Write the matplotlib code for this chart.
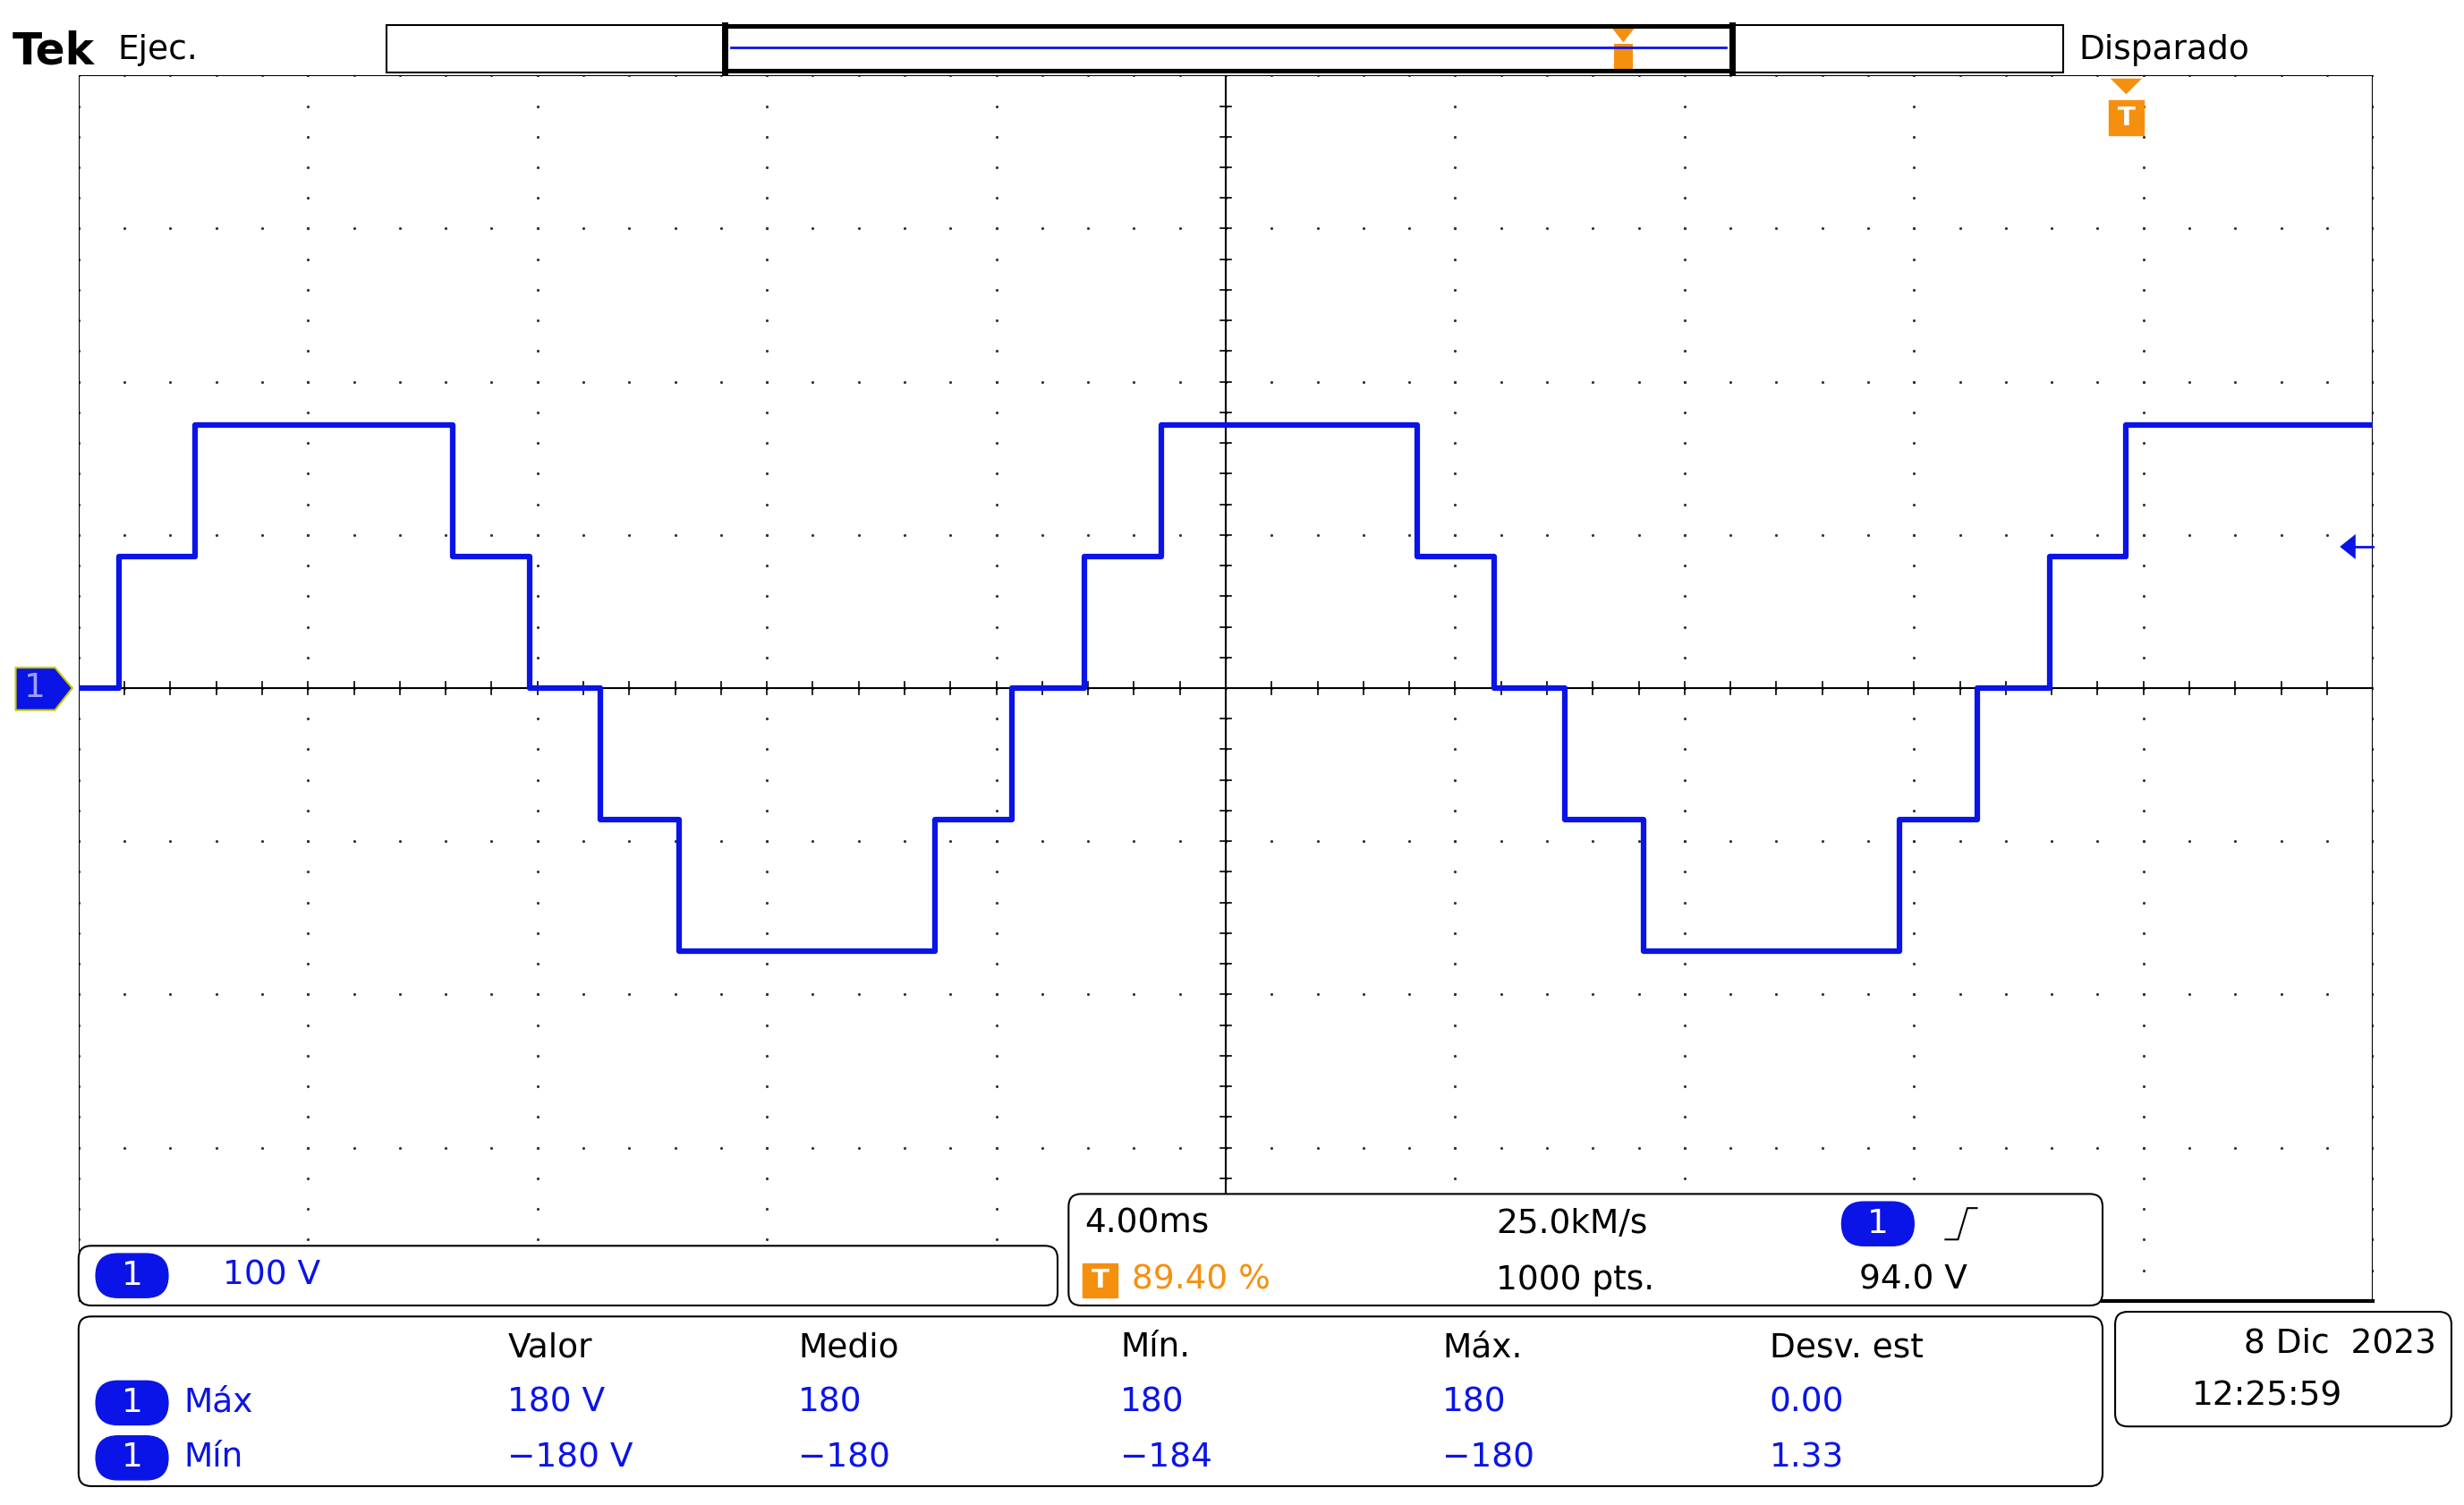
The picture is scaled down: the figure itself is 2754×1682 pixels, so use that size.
import numpy as np
import matplotlib.pyplot as plt
from matplotlib.patches import FancyBboxPatch, Rectangle, Polygon

# step waveform: transition times (ms) and levels (V) after each transition
edge_times = [-19.29, -17.97, -13.48, -12.14, -10.90, -9.53, -5.07, -3.73,
              -2.47, -1.12, 3.34, 4.68, 5.92, 7.29, 11.75, 13.10, 14.36, 15.70]
levels = [0, 86, 172, 86, 0, -86, -172, -86, 0, 86, 172, 86, 0, -86, -172, -86, 0, 86, 172]

meas_headers = ['Valor', 'Medio', 'Mín.', 'Máx.', 'Desv. est']
meas_rows = [('Máx', ['180 V', '180', '180', '180', '0.00']),
             ('Mín', ['\u2212180 V', '\u2212180', '\u2212184', '\u2212180', '1.33'])]

BLUE = '#0a14e6'
ORANGE = '#f5900f'
W, H = 1568, 958
FS = 27
plt.rcParams['font.family'] = ['DejaVu Sans']

fig = plt.figure(figsize=(27.54, 16.82), dpi=100)
ax = fig.add_axes([50 / W, (H - 828) / H, 1460 / W, 780 / H])
ax.set_xlim(-20, 20)
ax.set_ylim(-400, 400)
ax.axis('off')

# graticule dots
for gx in np.arange(-20, 21, 4):
    ys = np.arange(-400, 401, 20)
    ax.plot(np.full_like(ys, gx, dtype=float), ys, ls='', marker='.', ms=2.5, color='#333333')
for gy in np.arange(-400, 401, 100):
    xs = np.arange(-20, 20.01, 0.8)
    ax.plot(xs, np.full_like(xs, gy, dtype=float), ls='', marker='.', ms=2.5, color='#333333')
# center crosshair with ticks
ax.axhline(0, color='black', lw=1.5)
ax.axvline(0, color='black', lw=1.5)
for tx in np.arange(-20, 20.01, 0.8):
    ax.plot([tx, tx], [-4, 4], color='black', lw=1.2)
for ty in np.arange(-400, 401, 20):
    ax.plot([-0.1, 0.1], [ty, ty], color='black', lw=1.2)
ax.plot([-20, -20, 20, 20], [-400, 400, 400, -400], color='black', lw=1.5)

t = [-20] + edge_times + [20]
ax.step(t, levels + [levels[-1]], where='post', color=BLUE, lw=4.5)

# overlay in screen pixel coordinates
ov = fig.add_axes([0, 0, 1, 1])
ov.set_xlim(0, W)
ov.set_ylim(H, 0)
ov.axis('off')
ov.patch.set_alpha(0)


def rbox(x0, y0, x1, y1, lw=1.5):
    ov.add_patch(FancyBboxPatch((x0, y0), x1 - x0, y1 - y0, boxstyle='round,pad=0,rounding_size=8',
                                fc='white', ec='black', lw=lw))


def pill(x, y, txt='1'):
    ov.add_patch(FancyBboxPatch((x - 23, y - 14), 46, 28, boxstyle='round,pad=0,rounding_size=14',
                                fc=BLUE, ec=BLUE))
    ov.text(x, y, txt, color='white', fontsize=FS, ha='center', va='center')


def tmark(x, y, s=11):
    ov.add_patch(Rectangle((x - s, y - s), 2 * s, 2 * s, fc=ORANGE, ec=ORANGE))
    ov.text(x, y, 'T', color='white', fontsize=FS - 6, ha='center', va='center', fontweight='bold')


# header
ov.text(8, 33, 'Tek', fontsize=FS + 8, fontweight='bold', va='center')
ov.text(75, 32, 'Ejec.', fontsize=FS, va='center')
ov.add_patch(Rectangle((246, 16), 1067, 30, fc='white', ec='black', lw=1.5))
ov.plot([461, 1102], [17, 17], color='black', lw=3)
ov.plot([461, 1102], [45, 45], color='black', lw=3)
ov.plot([461, 461], [16, 46], color='black', lw=5)
ov.plot([1102, 1102], [16, 46], color='black', lw=5)
ov.plot([465, 1098], [30, 30], color=BLUE, lw=2)
ov.add_patch(Polygon([[1026, 18], [1040, 18], [1033, 27]], fc=ORANGE))
ov.add_patch(Rectangle((1027, 28), 12, 16, fc=ORANGE))
ov.text(1323, 32, 'Disparado', fontsize=FS, va='center')
ov.add_patch(Polygon([[1343, 50], [1363, 50], [1353, 60]], fc=ORANGE))
tmark(1353, 75)
ov.add_patch(Polygon([[1489, 348], [1499, 340], [1499, 356]], fc=BLUE))
ov.plot([1497, 1510], [348, 348], color=BLUE, lw=2)
ov.add_patch(Polygon([[10, 425], [35, 425], [46, 438], [35, 452], [10, 452]], fc=BLUE, ec='#c8c800', lw=1.5))
ov.text(22, 438, '1', color='#a0a0ff', fontsize=FS, ha='center', va='center')

# channel box
rbox(50, 793, 673, 831)
pill(84, 812)
ov.text(142, 812, '100 V', color=BLUE, fontsize=FS, va='center')

# timebase box
ov.plot([1338, 1510], [828, 828], color='black', lw=3)
rbox(680, 760, 1338, 831)
ov.text(690, 779, '4.00ms', fontsize=FS, va='center')
tmark(700, 815)
ov.text(720, 815, '89.40 %', color=ORANGE, fontsize=FS, va='center')
ov.text(952, 779, '25.0kM/s', fontsize=FS, va='center')
ov.text(952, 815, '1000 pts.', fontsize=FS, va='center')
pill(1195, 779)
ov.plot([1238, 1246, 1252, 1258], [789, 789, 769, 769], color='black', lw=1.5)
ov.text(1183, 815, '94.0 V', fontsize=FS, va='center')

# measurement box
rbox(50, 838, 1338, 946)
col_x = [323, 508, 713, 918, 1126]
for cx, h in zip(col_x, meas_headers):
    ov.text(cx, 858, h, fontsize=FS, va='center')
for ry, (name, vals) in zip([893, 928], meas_rows):
    pill(84, ry)
    ov.text(117, ry, name, color=BLUE, fontsize=FS, va='center')
    for cx, v in zip(col_x, vals):
        ov.text(cx, ry, v, color=BLUE, fontsize=FS, va='center')

# date box
rbox(1346, 835, 1560, 908)
ov.text(1550, 855, '8 Dic  2023', fontsize=FS, ha='right', va='center')
ov.text(1395, 889, '12:25:59', fontsize=FS, va='center')

fig.savefig('out.png', dpi=100, facecolor='white')
